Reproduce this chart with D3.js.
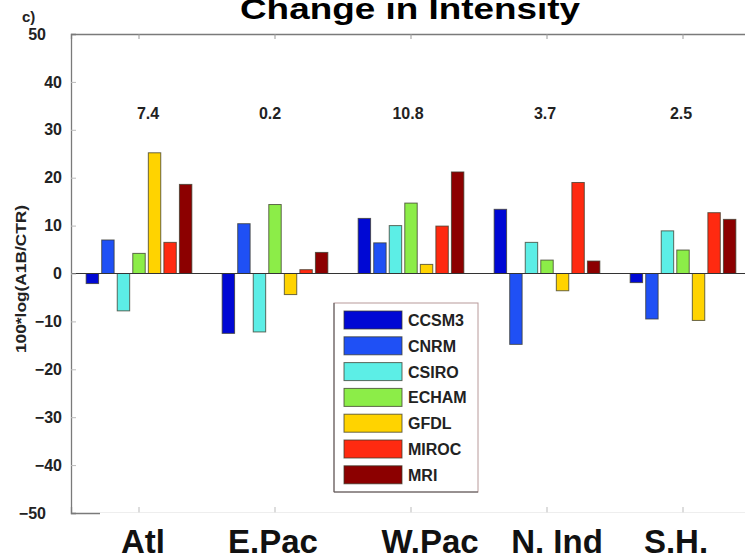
<!DOCTYPE html>
<html>
<head>
<meta charset="utf-8">
<script src="https://cdn.jsdelivr.net/npm/d3@7"></script>
<style>
  html, body { margin: 0; padding: 0; background: #fff; }
  svg { display: block; font-family: "Liberation Sans", Arial, sans-serif; }
</style>
</head>
<body>
<script>
// Basins and per-model change in intensity, 100*log(A1B/CTR)
const regions = ["Atl", "E.Pac", "W.Pac", "N. Ind", "S.H."];
const models = ["CCSM3", "CNRM", "CSIRO", "ECHAM", "GFDL", "MIROC", "MRI"];
const colors = ["#0008d4", "#1f50f5", "#5ceee6", "#8ced48", "#ffd300", "#ff2a10", "#8c0000"];
const ccsm3 = [-2.1, -12.5, 11.5, 13.4, -1.9];
const cnrm  = [7.0, 10.4, 6.4, -14.8, -9.5];
const csiro = [-7.8, -12.2, 10.0, 6.5, 8.9];
const echam = [4.2, 14.4, 14.7, 2.8, 4.9];
const gfdl  = [25.2, -4.4, 1.9, -3.6, -9.8];
const miroc = [6.5, 0.8, 9.9, 19.0, 12.7];
const mri   = [18.6, 4.4, 21.2, 2.6, 11.3];
const seriesValues = [ccsm3, cnrm, csiro, echam, gfdl, miroc, mri];
const ensembleMean = ["7.4", "0.2", "10.8", "3.7", "2.5"];
const yTicks = [-50, -40, -30, -20, -10, 0, 10, 20, 30, 40, 50];

const W = 745, H = 559;
const svg = d3.select("body").append("svg").attr("width", W).attr("height", H);
svg.append("rect").attr("width", W).attr("height", H).attr("fill", "#fff");

const plot = { left: 71, right: 751, top: 34, bottom: 513 };

const x = d3.scaleBand().domain(regions).range([plot.left, plot.right]).padding(0);
const inner = d3.scaleBand().domain(models).range([0, x.bandwidth() * 0.8]).padding(0);
const y = d3.scaleLinear().domain([-50, 50]).range([plot.bottom, plot.top]);

const axisColor = "#7a7a7a";

// Bars
const g = svg.append("g");
regions.forEach((r, ri) => {
  models.forEach((m, mi) => {
    const v = seriesValues[mi][ri];
    const cx = x(r) + x.bandwidth() * 0.1 + inner(m) + inner.bandwidth() / 2;
    const bw = inner.bandwidth() * 0.8;
    g.append("rect")
      .attr("x", cx - bw / 2)
      .attr("y", y(Math.max(0, v)))
      .attr("width", bw)
      .attr("height", Math.abs(y(v) - y(0)))
      .attr("fill", colors[mi])
      .attr("stroke", "#3a3a2a")
      .attr("stroke-opacity", 0.75)
      .attr("stroke-width", 1);
  });
});

// Zero baseline
svg.append("line")
  .attr("x1", plot.left).attr("x2", plot.right)
  .attr("y1", y(0)).attr("y2", y(0))
  .attr("stroke", "#333").attr("stroke-width", 1.2);

// Frame: left / top / right / bottom axes with inward ticks
const leftAxis = d3.axisLeft(y).tickValues(yTicks).tickSize(-5).tickPadding(9)
  .tickFormat(d3.format("d"));
const gl = svg.append("g").attr("transform", `translate(${plot.left},0)`).call(leftAxis);
gl.select(".domain").attr("stroke", axisColor).attr("stroke-width", 1.3);
gl.selectAll(".tick line").attr("stroke", "#bbb");
gl.selectAll(".tick text")
  .attr("font-size", 16).attr("font-weight", "bold").attr("fill", "#222")
  .attr("dx", d => (Math.abs(d) === 50 ? -16 : 0));

const rightAxis = d3.axisRight(y).tickValues(yTicks).tickSize(-5).tickFormat("");
const gr = svg.append("g").attr("transform", `translate(${plot.right},0)`).call(rightAxis);
gr.select(".domain").attr("stroke", axisColor);
gr.selectAll(".tick line").attr("stroke", "#bbb");

const topAxis = d3.axisTop(x).tickSize(-5).tickFormat("");
const gt = svg.append("g").attr("transform", `translate(0,${plot.top})`).call(topAxis);
gt.select(".domain").attr("stroke", axisColor).attr("stroke-width", 1.3);
gt.selectAll(".tick line").attr("stroke", "#999");

const bottomAxis = d3.axisBottom(x).tickSize(-6).tickFormat("");
const gb = svg.append("g").attr("transform", `translate(0,${plot.bottom})`).call(bottomAxis);
gb.select(".domain").attr("stroke", axisColor).attr("stroke-width", 1.3);
gb.selectAll(".tick line").attr("stroke", "#bbb");

// Ensemble-mean numbers above each basin
const meanShift = [9, -5, -3, -2, -2];
svg.append("g").selectAll("text").data(ensembleMean).join("text")
  .attr("x", (d, i) => x(regions[i]) + x.bandwidth() / 2 + meanShift[i]).attr("y", 119)
  .attr("text-anchor", "middle")
  .attr("font-size", 16).attr("font-weight", "bold").attr("fill", "#222")
  .text(d => d);

// Legend
const lg = svg.append("g");
lg.append("rect").attr("x", 334).attr("y", 303).attr("width", 144).attr("height", 189)
  .attr("fill", "#fff").attr("stroke", "#b89a9a").attr("stroke-width", 1);
lg.append("line").attr("x1", 334).attr("x2", 334).attr("y1", 303).attr("y2", 492)
  .attr("stroke", "#555");
lg.append("line").attr("x1", 334).attr("x2", 478).attr("y1", 492).attr("y2", 492)
  .attr("stroke", "#555");
models.forEach((m, i) => {
  const cy = 320 + i * 25.8;
  lg.append("rect").attr("x", 344).attr("y", cy - 9).attr("width", 58).attr("height", 18)
    .attr("fill", colors[i]).attr("stroke", "#3a3a2a").attr("stroke-opacity", 0.75);
  lg.append("text").attr("x", 408).attr("y", cy + 6)
    .attr("font-size", 16).attr("font-weight", "bold").attr("fill", "#222")
    .text(m);
});

// White strip carrying the basin names
svg.append("rect").attr("x", 100).attr("y", plot.bottom - 0.5)
  .attr("width", W - 100).attr("height", H - plot.bottom + 1).attr("fill", "#fff");
const labelX = [143, 273, 430, 557, 676];
svg.append("g").selectAll("text").data(regions).join("text")
  .attr("x", (d, i) => labelX[i]).attr("y", 553)
  .attr("text-anchor", "middle")
  .attr("font-size", 33).attr("font-weight", "bold").attr("fill", "#111")
  .text(d => d);

// Y label
svg.append("text")
  .attr("transform", "translate(26,279) rotate(-90)")
  .attr("text-anchor", "middle")
  .attr("font-size", 14).attr("font-weight", "bold").attr("fill", "#222")
  .attr("textLength", 148).attr("lengthAdjust", "spacingAndGlyphs")
  .text("100*log(A1B/CTR)");

// Panel tag and title
svg.append("text").attr("x", 22).attr("y", 22)
  .attr("font-size", 15).attr("font-weight", "bold").attr("fill", "#222").text("c)");
svg.append("text").attr("x", 410).attr("y", 19)
  .attr("text-anchor", "middle")
  .attr("font-size", 30).attr("font-weight", "bold").attr("fill", "#000")
  .attr("textLength", 340).attr("lengthAdjust", "spacingAndGlyphs")
  .text("Change in Intensity");
</script>
</body>
</html>
